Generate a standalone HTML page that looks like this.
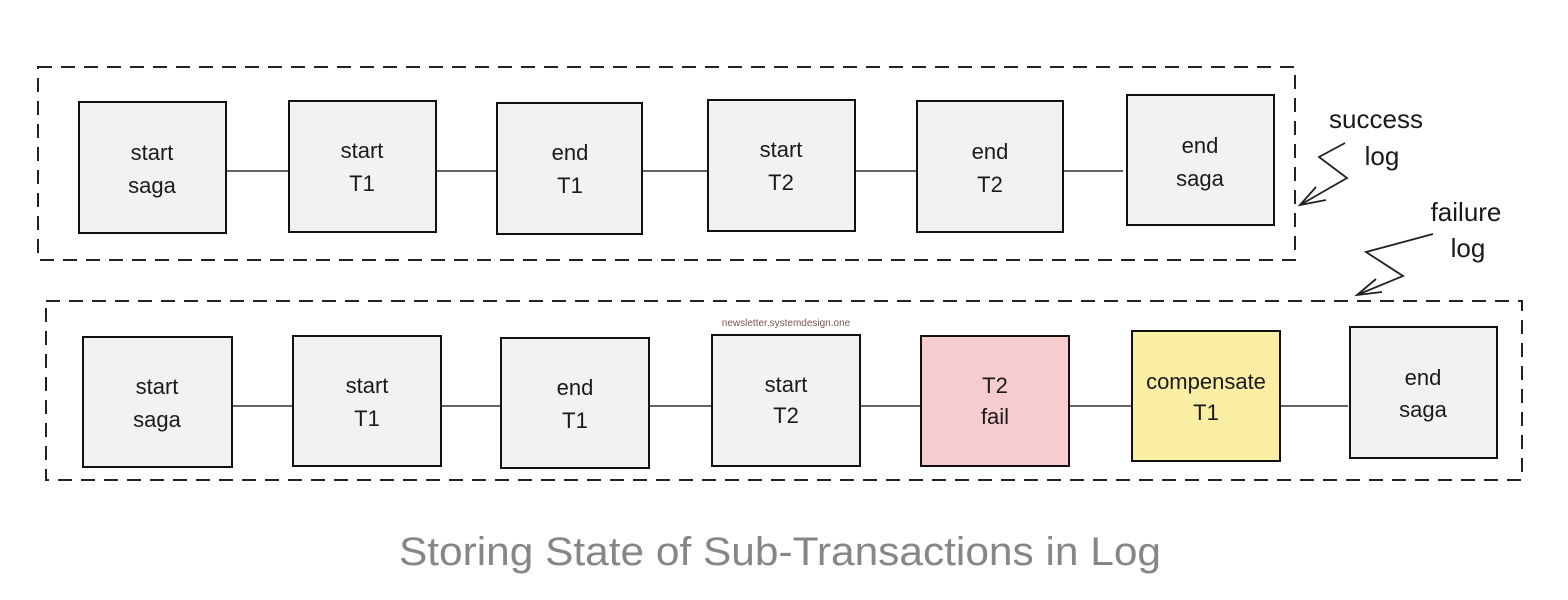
<!DOCTYPE html>
<html><head><meta charset="utf-8"><style>
html,body{margin:0;padding:0;background:#fff;}
svg{display:block;}
.t{font-family:"Liberation Sans",sans-serif;font-size:22px;fill:#1a1a1a;text-anchor:middle;}
.a{font-family:"Liberation Sans",sans-serif;font-size:26px;fill:#1a1a1a;text-anchor:middle;}
</style></head><body>
<svg width="1568" height="600" viewBox="0 0 1568 600" xmlns="http://www.w3.org/2000/svg">
<g fill="none" stroke="#222" stroke-width="2" stroke-dasharray="14,9">
<rect x="38" y="67" width="1257" height="193"/>
<rect x="46" y="301" width="1476" height="179"/>
</g>
<g stroke="#333" stroke-width="1.6">
<line x1="226" y1="171" x2="289" y2="171"/><line x1="436" y1="171" x2="497" y2="171"/>
<line x1="642" y1="171" x2="708" y2="171"/><line x1="855" y1="171" x2="917" y2="171"/>
<line x1="1063" y1="171" x2="1123" y2="171"/>
<line x1="232" y1="406" x2="293" y2="406"/><line x1="441" y1="406" x2="501" y2="406"/>
<line x1="649" y1="406" x2="712" y2="406"/><line x1="860" y1="406" x2="921" y2="406"/>
<line x1="1069" y1="406" x2="1132" y2="406"/><line x1="1280" y1="406" x2="1348" y2="406"/>
</g>
<g stroke="#111" stroke-width="2">
<rect x="79" y="102" width="147" height="131" fill="#f1f2f3"/>
<rect x="289" y="101" width="147" height="131" fill="#f1f2f3"/>
<rect x="497" y="103" width="145" height="131" fill="#f1f2f3"/>
<rect x="708" y="100" width="147" height="131" fill="#f1f2f3"/>
<rect x="917" y="101" width="146" height="131" fill="#f1f2f3"/>
<rect x="1127" y="95" width="147" height="130" fill="#f1f2f3"/>
<rect x="83" y="337" width="149" height="130" fill="#f1f2f3"/>
<rect x="293" y="336" width="148" height="130" fill="#f1f2f3"/>
<rect x="501" y="338" width="148" height="130" fill="#f1f2f3"/>
<rect x="712" y="335" width="148" height="131" fill="#f1f2f3"/>
<rect x="921" y="336" width="148" height="130" fill="#f7cccf"/>
<rect x="1132" y="331" width="148" height="130" fill="#faeda4"/>
<rect x="1350" y="327" width="147" height="131" fill="#f1f2f3"/>
</g>
<g class="t">
<text class="t" x="152" y="160">start</text><text class="t" x="152" y="193">saga</text>
<text class="t" x="362" y="158">start</text><text class="t" x="362" y="191">T1</text>
<text class="t" x="570" y="160">end</text><text class="t" x="570" y="193">T1</text>
<text class="t" x="781" y="157">start</text><text class="t" x="781" y="190">T2</text>
<text class="t" x="990" y="159">end</text><text class="t" x="990" y="192">T2</text>
<text class="t" x="1200" y="153">end</text><text class="t" x="1200" y="186">saga</text>
<text class="t" x="157" y="394">start</text><text class="t" x="157" y="427">saga</text>
<text class="t" x="367" y="393">start</text><text class="t" x="367" y="426">T1</text>
<text class="t" x="575" y="395">end</text><text class="t" x="575" y="428">T1</text>
<text class="t" x="786" y="392">start</text><text class="t" x="786" y="423">T2</text>
<text class="t" x="995" y="393">T2</text><text class="t" x="995" y="424">fail</text>
<text class="t" x="1206" y="389">compensate</text><text class="t" x="1206" y="420">T1</text>
<text class="t" x="1423" y="385">end</text><text class="t" x="1423" y="417">saga</text>
</g>
<text x="786" y="326" font-family="Liberation Sans,sans-serif" font-size="10" fill="#7a5555" text-anchor="middle">newsletter.systemdesign.one</text>
<text class="a" x="1376" y="128">success</text>
<text class="a" x="1382" y="165">log</text>
<text class="a" x="1466" y="221">failure</text>
<text class="a" x="1468" y="257">log</text>
<g fill="none" stroke="#222" stroke-width="1.8">
<polyline points="1345,143 1319,157 1347,178 1300,205"/>
<polyline points="1316,187 1300,205 1326,200"/>
<polyline points="1433,234 1366,252 1403,276 1357,295"/>
<polyline points="1376,279 1357,295 1382,292"/>
</g>
<text x="780" y="565" font-family="Liberation Sans,sans-serif" font-size="40" fill="#868686" text-anchor="middle" textLength="762" lengthAdjust="spacingAndGlyphs">Storing State of Sub-Transactions in Log</text>
</svg>
</body></html>
